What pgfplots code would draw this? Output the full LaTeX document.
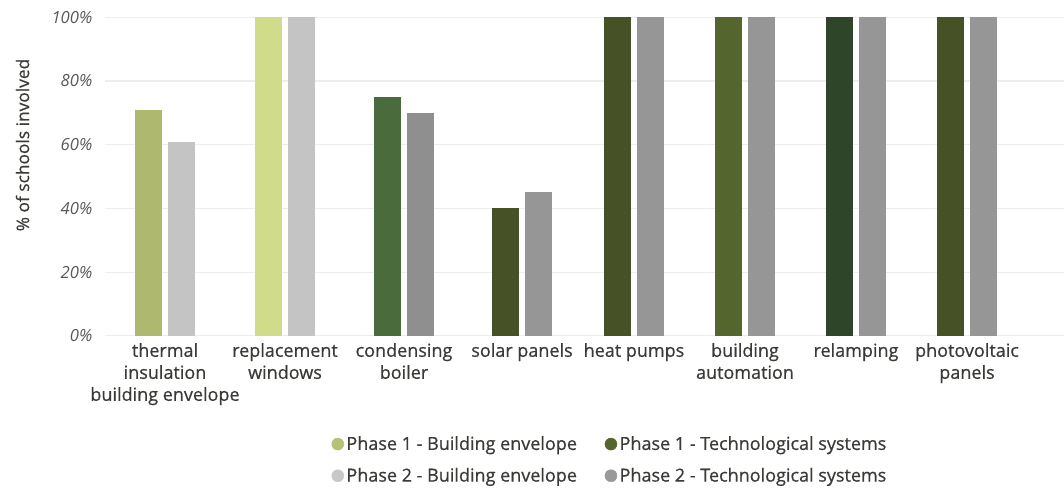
\documentclass[border=0pt]{standalone}
\usepackage{pgfplots}
\pgfplotsset{compat=1.18}
\usepackage{fontspec}
\setmainfont{Open Sans}
\newfontfamily\medfont{Open Sans}[FakeBold=0.6]
\definecolor{pOneBEa}{HTML}{AEB86E}
\definecolor{pOneBEb}{HTML}{D0DC8A}
\definecolor{pTwoBE}{HTML}{C4C4C4}
\definecolor{cond}{HTML}{4A6B3C}
\definecolor{dolive}{HTML}{465126}
\definecolor{bauto}{HTML}{55652E}
\definecolor{relamp}{HTML}{2E4529}
\definecolor{gcond}{HTML}{8F8F8F}
\definecolor{pTwoTS}{HTML}{969696}
\definecolor{legOneBE}{HTML}{B3C277}
\definecolor{legOneTS}{HTML}{55652E}
\definecolor{legTwoBE}{HTML}{C8C8C8}
\definecolor{legTwoTS}{HTML}{999999}
\definecolor{gridc}{HTML}{EDEDED}
\definecolor{txt}{HTML}{3A3A36}
\begin{document}
\begin{tikzpicture}
\useasboundingbox (-78.75pt,-115.7pt) rectangle (719.25pt,251.8pt);
\begin{axis}[
  scale only axis,
  width=719.25pt, height=238.8pt,
  xmin=105, xmax=1064, ymin=0, ymax=100,
  axis line style={draw=none},
  major tick length=0pt,
  ymajorgrids, grid style={gridc, line width=0.8pt},
  ytick={0,20,40,60,80,100},
  /pgf/number format/assume math mode=true,
  yticklabel={\pgfmathprintnumber{\tick}\%},
  yticklabel style={font=\fontsize{12.5}{14}\selectfont\itshape, text=black!65, xshift=-6pt},
  xtick={165,285,404,522,634,745,856,967},
  xticklabels={thermal\\insulation\\building envelope, replacement\\windows, condensing\\boiler, solar panels, heat pumps, building\\automation, relamping, photovoltaic\\panels},
  xticklabel style={align=center, font=\medfont\fontsize{13.5}{16.5}\selectfont, text=txt, yshift=-2pt},
  ylabel={\% of schools involved},
  y label style={at={(axis description cs:-0.086,0.599)}, anchor=center, font=\medfont\fontsize{13}{15}\selectfont, text=txt},
  legend columns=2,
  legend style={draw=none, fill=none, at={(axis description cs:0.527,-0.39)}, anchor=center,
    font=\medfont\fontsize{13.5}{16}\selectfont, text=txt,
    /tikz/every even column/.append style={column sep=19pt},
    row sep=8pt},
  legend cell align=left,
]
\addlegendimage{only marks, mark=*, mark size=4.5pt, color=legOneBE}
\addlegendentry{Phase 1 - Building envelope}
\addlegendimage{only marks, mark=*, mark size=4.5pt, color=legOneTS}
\addlegendentry{Phase 1 - Technological systems}
\addlegendimage{only marks, mark=*, mark size=4.5pt, color=legTwoBE}
\addlegendentry{Phase 2 - Building envelope}
\addlegendimage{only marks, mark=*, mark size=4.5pt, color=legTwoTS}
\addlegendentry{Phase 2 - Technological systems}

\pgfplotsset{p1/.style={ybar, bar width=20.5pt, bar shift=-12.4pt, draw=none, forget plot},
             p2/.style={ybar, bar width=20pt, bar shift=12.4pt, draw=none, forget plot}}
% thermal insulation
\addplot[p1, fill=pOneBEa] coordinates {(165,71)};
\addplot[p2, fill=pTwoBE] coordinates {(165,61)};
% replacement windows
\addplot[p1, fill=pOneBEb] coordinates {(285,100)};
\addplot[p2, fill=pTwoBE] coordinates {(285,100)};
% condensing boiler
\addplot[p1, fill=cond] coordinates {(404,75)};
\addplot[p2, fill=gcond] coordinates {(404,70)};
% solar panels
\addplot[p1, fill=dolive] coordinates {(522,40)};
\addplot[p2, fill=pTwoTS] coordinates {(522,45)};
% heat pumps
\addplot[p1, fill=dolive] coordinates {(634,100)};
\addplot[p2, fill=pTwoTS] coordinates {(634,100)};
% building automation
\addplot[p1, fill=bauto] coordinates {(745,100)};
\addplot[p2, fill=pTwoTS] coordinates {(745,100)};
% relamping
\addplot[p1, fill=relamp] coordinates {(856,100)};
\addplot[p2, fill=pTwoTS] coordinates {(856,100)};
% photovoltaic panels
\addplot[p1, fill=dolive] coordinates {(967,100)};
\addplot[p2, fill=pTwoTS] coordinates {(967,100)};
\end{axis}
\end{tikzpicture}
\end{document}
